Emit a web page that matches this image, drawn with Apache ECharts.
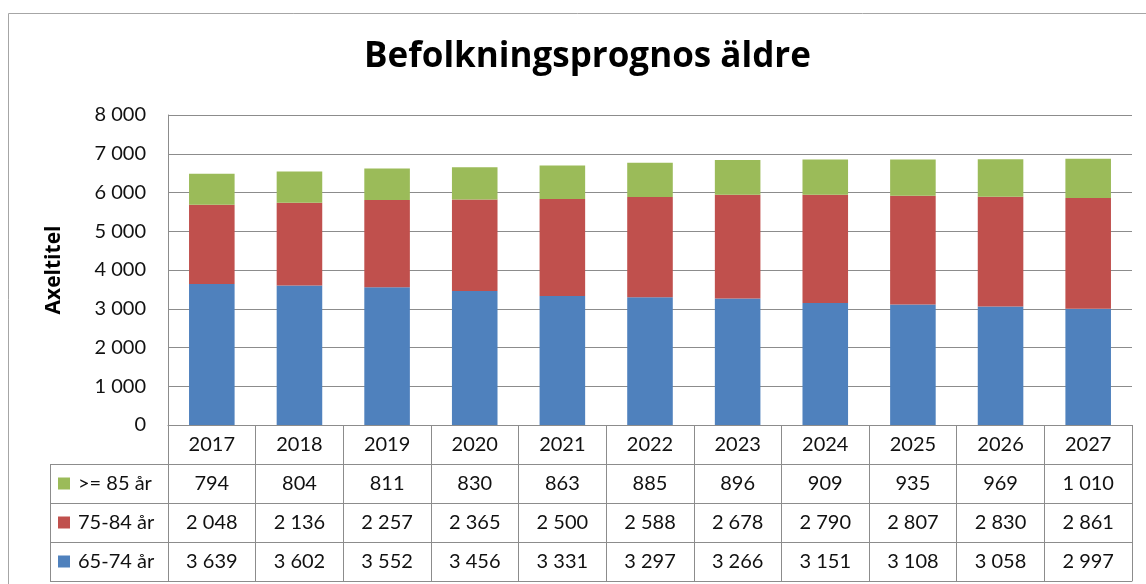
<!DOCTYPE html>
<html>
<head>
<meta charset="utf-8">
<script src="https://cdn.jsdelivr.net/npm/echarts@6/dist/echarts.min.js"></script>
<style>
  html, body { margin: 0; padding: 0; background: #fff; }
  #chart { width: 1146px; height: 584px; }
</style>
</head>
<body>
<div id="chart"></div>
<script>
// Population forecast for the elderly, by age group and year
const years = ['2017', '2018', '2019', '2020', '2021', '2022', '2023', '2024', '2025', '2026', '2027'];
const age65to74 = [3639, 3602, 3552, 3456, 3331, 3297, 3266, 3151, 3108, 3058, 2997];
const age75to84 = [2048, 2136, 2257, 2365, 2500, 2588, 2678, 2790, 2807, 2830, 2861];
const age85plus = [794, 804, 811, 830, 863, 885, 896, 909, 935, 969, 1010];
const seriesNames = ['65-74 år', '75-84 år', '>= 85 år'];
const yTicks = { min: 0, max: 8000, interval: 1000 };

const FONT = 'Lato, "Open Sans", sans-serif';
const BOLD_FONT = '"Open Sans", Lato, sans-serif';
const LINE = '#8c8c8c';
const ROW = 39;            // data table row height
const GRID_LEFT = 168, GRID_TOP = 115, GRID_RIGHT = 14, GRID_BOTTOM = 159;
const TABLE_LEFT = 50;
const AXIS_Y = 584 - GRID_BOTTOM;

// thousands grouped with a space
const fmt = v => String(v).replace(/\B(?=(\d{3})+(?!\d))/g, ' ');

const chart = echarts.init(document.getElementById('chart'));

// one category axis per table row; its ticks draw the cell borders
function tableAxis(offset, rowValues) {
  return {
    type: 'category',
    data: years,
    position: 'bottom',
    offset: offset,
    axisLine: { show: true, lineStyle: { color: LINE, width: 1 } },
    axisTick: { show: rowValues !== false, interval: 0, length: ROW, alignWithLabel: false,
                lineStyle: { color: LINE, width: 1 } },
    axisLabel: {
      show: rowValues !== false,
      interval: 0,
      margin: 10,
      fontFamily: FONT,
      fontSize: 20,
      lineHeight: 20,
      color: '#111',
      formatter: (v, i) => rowValues ? fmt(rowValues[i]) : v
    },
    splitLine: { show: false }
  };
}

const rowsTop = [1, 2, 3, 4].map(k => AXIS_Y + k * ROW);
const graphics = [
  // outer chart frame
  { type: 'rect', shape: { x: 8.5, y: 13.5, width: 1200, height: 700 },
    style: { fill: 'none', stroke: '#a6a6a6', lineWidth: 1 }, silent: true },
  // left border of the legend column
  { type: 'line', shape: { x1: TABLE_LEFT + 0.5, y1: rowsTop[0], x2: TABLE_LEFT + 0.5, y2: rowsTop[3] },
    style: { stroke: LINE, lineWidth: 1 }, silent: true }
].concat(rowsTop.map(y => ({
  type: 'line', shape: { x1: TABLE_LEFT, y1: y + 0.5, x2: GRID_LEFT, y2: y + 0.5 },
  style: { stroke: LINE, lineWidth: 1 }, silent: true
})));

const colors = ['#4f81bd', '#c0504d', '#9bbb59'];
const values = [age65to74, age75to84, age85plus];

chart.setOption({
  animation: false,
  title: {
    text: 'Befolkningsprognos äldre',
    left: 359,
    top: 35,
    textStyle: { fontFamily: BOLD_FONT, fontSize: 35, fontWeight: 'bold', color: '#000' }
  },
  legend: {
    orient: 'vertical',
    left: 58,
    top: rowsTop[0] + 9.5,
    padding: 0,
    itemWidth: 12,
    itemHeight: 12,
    itemGap: ROW - 20,
    icon: 'rect',
    data: ['>= 85 år', '75-84 år', '65-74 år'],
    textStyle: { fontFamily: FONT, fontSize: 20, lineHeight: 20, color: '#111', padding: [0, 0, 0, 3] },
    selectedMode: false
  },
  grid: { left: GRID_LEFT, top: GRID_TOP, right: GRID_RIGHT, bottom: GRID_BOTTOM, containLabel: false },
  xAxis: [
    tableAxis(0, null),
    tableAxis(ROW, age85plus),
    tableAxis(2 * ROW, age75to84),
    tableAxis(3 * ROW, age65to74),
    tableAxis(4 * ROW, false)
  ],
  yAxis: {
    type: 'value',
    min: yTicks.min,
    max: yTicks.max,
    interval: yTicks.interval,
    name: 'Axeltitel',
    nameLocation: 'middle',
    nameGap: 103,
    nameRotate: 90,
    nameTextStyle: { fontFamily: BOLD_FONT, fontSize: 21, fontWeight: 'bold', color: '#000' },
    axisLine: { show: true, lineStyle: { color: LINE } },
    axisTick: { show: false },
    axisLabel: { fontFamily: FONT, fontSize: 20, color: '#111', margin: 22, formatter: v => fmt(v) },
    splitLine: { lineStyle: { color: LINE, width: 1 } }
  },
  series: seriesNames.map((name, s) => ({
    name: name,
    type: 'bar',
    stack: 'total',
    xAxisIndex: 0,
    barCategoryGap: '48%',
    itemStyle: { color: colors[s] },
    data: values[s]
  })),
  graphic: graphics
});
</script>
</body>
</html>
